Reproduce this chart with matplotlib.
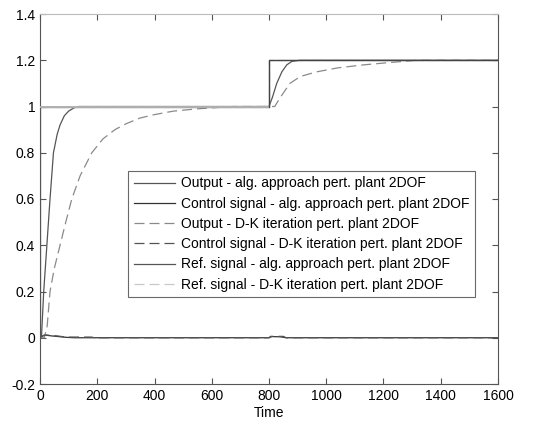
import matplotlib.pyplot as plt
from matplotlib.ticker import FuncFormatter

plt.rcParams['font.family'] = ['Liberation Sans', 'DejaVu Sans']

# time / value samples for each signal
t_out_alg = [0, 5, 13, 24, 35, 47, 60, 70, 85, 100, 120, 135, 800, 812, 827, 845, 862, 880, 908, 1600]
y_out_alg = [0, 0, 0.2, 0.4, 0.6, 0.8, 0.88, 0.92, 0.96, 0.98, 0.995, 1.0, 1.0, 1.04, 1.1, 1.15, 1.18, 1.195, 1.2, 1.2]

t_ctl_alg = [0, 5, 15, 40, 90, 120, 800, 810, 840, 860, 1600]
y_ctl_alg = [0, 0.004, 0.012, 0.008, 0.002, 0, 0, 0.005, 0.004, 0, 0]

t_out_dk = [0, 15, 25, 35, 50, 70, 90, 111, 140, 181, 220, 262, 300, 349, 400, 466, 550, 675, 800,
            820, 840, 873, 910, 967, 1040, 1130, 1220, 1317, 1600]
y_out_dk = [0, 0, 0.05, 0.2, 0.3, 0.4, 0.5, 0.6, 0.7, 0.8, 0.86, 0.9, 0.925, 0.95, 0.965, 0.98, 0.99, 1.0, 1.0,
            1.0, 1.04, 1.1, 1.13, 1.15, 1.167, 1.18, 1.19, 1.2, 1.2]

t_ctl_dk = [0, 5, 20, 60, 90, 180, 190, 800, 805, 850, 860, 1600]
y_ctl_dk = [0, 0.006, 0.012, 0.008, 0.003, 0.003, 0, 0, 0.006, 0.006, 0, 0]

t_ref = [0, 0, 800, 800, 1600]
y_ref = [0, 1.0, 1.0, 1.2, 1.2]

labels = [
    'Output - alg. approach pert. plant 2DOF',
    'Control signal - alg. approach pert. plant 2DOF',
    'Output - D-K iteration pert. plant 2DOF',
    'Control signal - D-K iteration pert. plant 2DOF',
    'Ref. signal - alg. approach pert. plant 2DOF',
    'Ref. signal - D-K iteration pert. plant 2DOF',
]

fig = plt.figure(figsize=(5.34, 4.25), dpi=100)
ax = fig.add_axes([40 / 534, 1 - 384 / 425, 458 / 534, 370 / 425])

ax.plot(t_out_alg, y_out_alg, '-', color='#555555', lw=0.9, label=labels[0])
ax.plot(t_ctl_alg, y_ctl_alg, '-', color='#333333', lw=0.9, label=labels[1])
ax.plot(t_out_dk, y_out_dk, '--', color='#8a8a8a', lw=0.9, dashes=(8, 4), label=labels[2])
ax.plot(t_ctl_dk, y_ctl_dk, '--', color='#555555', lw=0.9, dashes=(8, 4), label=labels[3])
ax.plot(t_ref, y_ref, '-', color='#555555', lw=0.9, label=labels[4])
ax.plot(t_ref[1:], y_ref[1:], '--', color='#c8c8c8', lw=0.9, dashes=(8, 4), label=labels[5])
# first reference level sits on top of everything else
ax.plot(t_ref[1:3], y_ref[1:3], '-', color='#b0b0b0', lw=1.4, zorder=5)
ax.plot(t_ref[2:], y_ref[2:], '-', color='#444444', lw=0.9, zorder=5)

ax.set_xlim(0, 1600)
ax.set_ylim(-0.2, 1.4)
ax.set_xticks(range(0, 1601, 200))
ax.set_yticks([-0.2, 0, 0.2, 0.4, 0.6, 0.8, 1.0, 1.2, 1.4])
ax.yaxis.set_major_formatter(FuncFormatter(lambda v, p: '%g' % round(v, 2)))
ax.tick_params(direction='in', top=True, right=True, labelsize=10, length=4, colors='#555555')
ax.tick_params(labelcolor='black')
for s in ax.spines.values():
    s.set_color('#555555')
    s.set_linewidth(0.8)
ax.spines['top'].set_color('#bbbbbb')
ax.set_xlabel('Time', fontsize=10, labelpad=2)

leg = ax.legend(loc='upper right', bbox_to_anchor=(0.95, 0.576), fontsize=10,
                frameon=True, fancybox=False, handlelength=3.0, handletextpad=0.4,
                labelspacing=0.45, borderpad=0.4, borderaxespad=0)
leg.set_zorder(10)
leg.get_frame().set_edgecolor('#444444')
leg.get_frame().set_linewidth(0.8)

fig.savefig('out.png', dpi=100)
